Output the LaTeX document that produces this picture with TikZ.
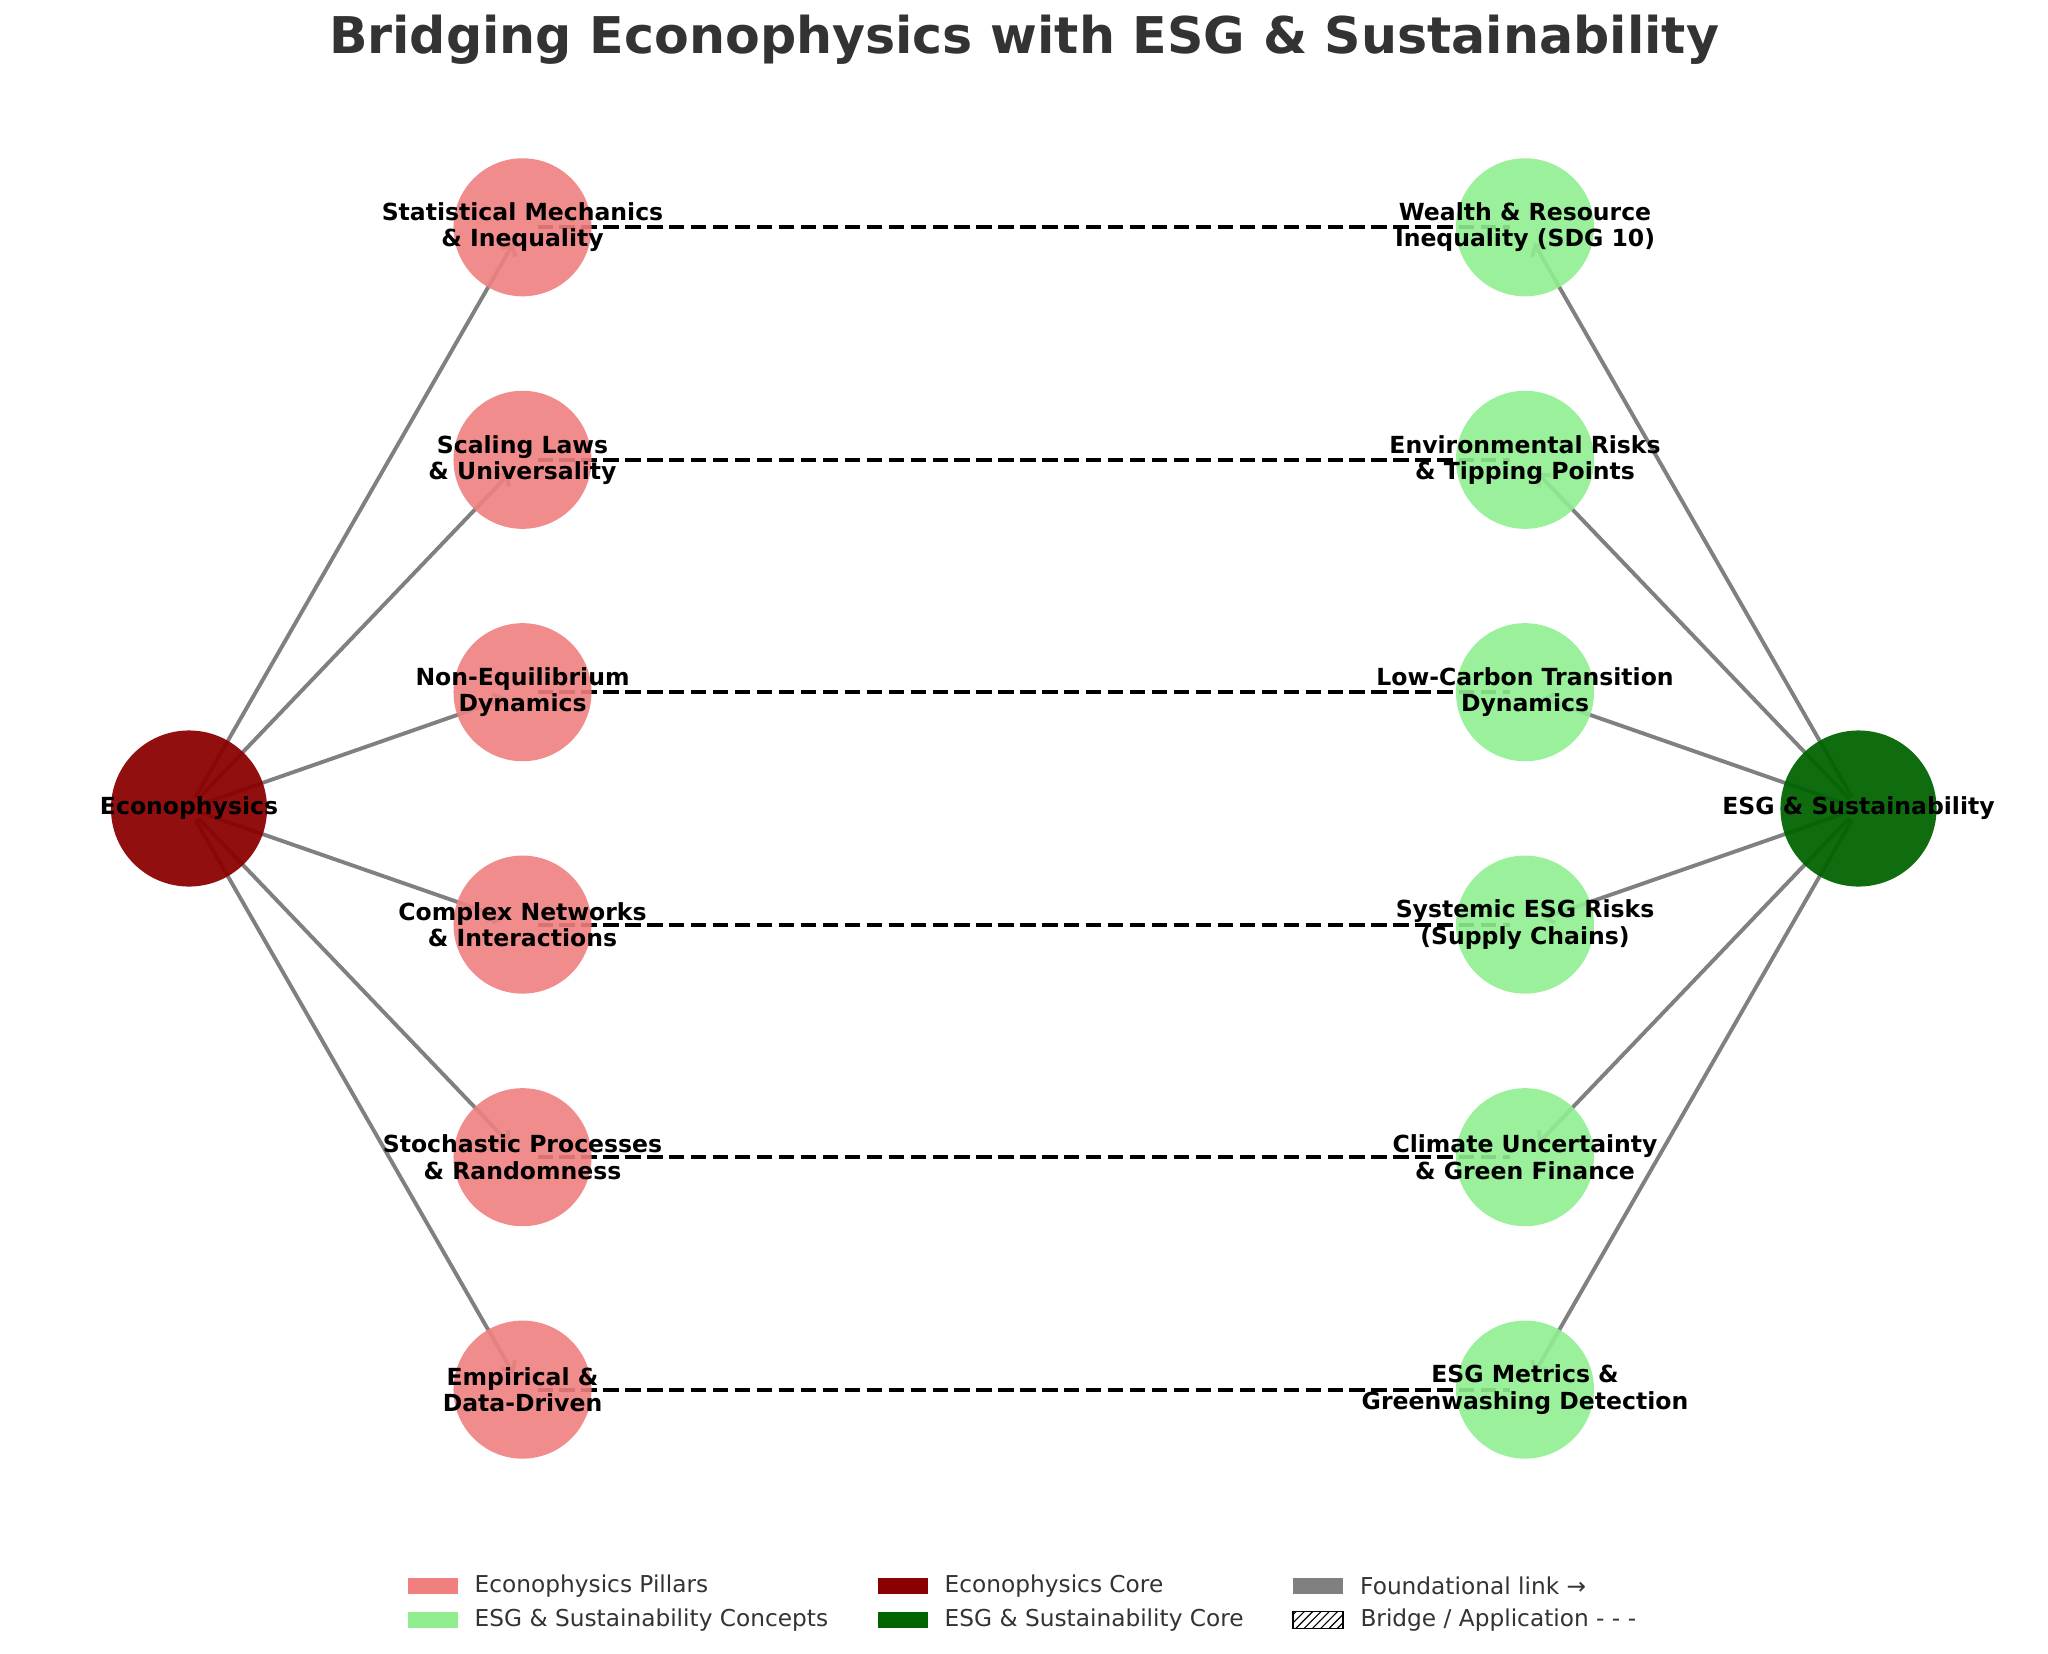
\documentclass[tikz,border=0pt]{standalone}
\usepackage{fontspec}
\setmainfont{DejaVu Sans}
\usetikzlibrary{arrows.meta, backgrounds, patterns, positioning}
\definecolor{pillarred}{HTML}{F08080}
\definecolor{conceptgreen}{HTML}{90EE90}
\definecolor{corered}{HTML}{8B0000}
\definecolor{coregreen}{HTML}{006400}
\definecolor{titlegray}{HTML}{333333}

\begin{document}
\begin{tikzpicture}[x=0.36bp, y=-0.36bp]
			\tikzstyle{pillar}=[
			circle,
			fill=pillarred,
			fill opacity=0.9,
			minimum size=49.7bp,
			inner sep=0pt
			]
			\tikzstyle{concept}=[pillar, fill=conceptgreen]
			\tikzstyle{core}=[pillar, minimum size=56.2bp, fill opacity=0.94]
			\tikzstyle{lbl}=[
			align=center,
			inner sep=0pt,
			font=\bfseries\fontsize{8.5}{9.5}\selectfont
			]
			\tikzstyle{found}=[
			draw=gray,
			line width=1.4bp,
			-{Straight Barb[length=3bp, width=6bp]},
			shorten <=4.7bp,
			shorten >=6.5bp
			]
			\tikzstyle{bridge}=[
			draw=black,
			line width=1.5bp,
			dash pattern=on 5.5bp off 2.4bp,
			shorten <=5.4bp,
			shorten >=5.4bp
			]
			\tikzstyle{legpatch}=[
			rectangle,
			minimum width=18bp,
			minimum height=6.1bp,
			inner sep=0pt
			]
			\tikzstyle{legtext}=[
			inner sep=0pt,
			text=black!80,
			font=\fontsize{8.4}{10}\selectfont
			]
			\useasboundingbox (0,0) rectangle (2048,1654);
			% title
			\node[anchor=base, text=titlegray, font=\bfseries\fontsize{18.3}{22}\selectfont] (title) at (1024,53)
			{Bridging Econophysics with ESG \& Sustainability};
			% cores
			\node[core, fill=corered] (ECON) at (189,808.5) {};
			\node[core, fill=coregreen] (ESG) at (1858.5,808.5) {};
			% econophysics pillars
			\node[pillar] (P1) at (522.5,227.3) {};
			\node[pillar] (P2) at (522.5,459.8) {};
			\node[pillar] (P3) at (522.5,692.2) {};
			\node[pillar] (P4) at (522.5,924.6) {};
			\node[pillar] (P5) at (522.5,1157.2) {};
			\node[pillar] (P6) at (522.5,1389.6) {};
			% esg concepts
			\node[concept] (C1) at (1525,227.3) {};
			\node[concept] (C2) at (1525,459.8) {};
			\node[concept] (C3) at (1525,692.2) {};
			\node[concept] (C4) at (1525,924.6) {};
			\node[concept] (C5) at (1525,1157.2) {};
			\node[concept] (C6) at (1525,1389.6) {};
			\begin{scope}[on background layer]
				\foreach \i in {1,...,6} {
					\path[found] (ECON.center) -- (P\i.center);
					\path[found] (ESG.center) -- (C\i.center);
					\path[bridge] (P\i.center) -- (C\i.center);
				}
			\end{scope}
			% labels
			\node[lbl] (ECON-t) at (ECON) {Econophysics};
			\node[lbl] (ESG-t) at (ESG) {ESG \& Sustainability};
			\node[lbl] (P1-t) at (P1) {Statistical Mechanics\\\& Inequality};
			\node[lbl] (P2-t) at (P2) {Scaling Laws\\\& Universality};
			\node[lbl] (P3-t) at (P3) {Non-Equilibrium\\Dynamics};
			\node[lbl] (P4-t) at (P4) {Complex Networks\\\& Interactions};
			\node[lbl] (P5-t) at (P5) {Stochastic Processes\\\& Randomness};
			\node[lbl] (P6-t) at (P6) {Empirical \&\\Data-Driven};
			\node[lbl] (C1-t) at (C1) {Wealth \& Resource\\Inequality (SDG 10)};
			\node[lbl] (C2-t) at (C2) {Environmental Risks\\\& Tipping Points};
			\node[lbl] (C3-t) at (C3) {Low-Carbon Transition\\Dynamics};
			\node[lbl] (C4-t) at (C4) {Systemic ESG Risks\\(Supply Chains)};
			\node[lbl] (C5-t) at (C5) {Climate Uncertainty\\\& Green Finance};
			\node[lbl] (C6-t) at (C6) {ESG Metrics \&\\Greenwashing Detection};
			% legend
			\node[legpatch, fill=pillarred] (lg1) at (432.5,1586) {};
			\node[legpatch, fill=conceptgreen] (lg2) at (432.5,1620) {};
			\node[legpatch, fill=corered] (lg3) at (902.5,1586) {};
			\node[legpatch, fill=coregreen] (lg4) at (902.5,1620) {};
			\node[legpatch, fill=gray] (lg5) at (1318,1586) {};
			\node[legpatch, draw=black, line width=0.6bp, pattern=north east lines] (lg6) at (1318,1620) {};
			\node[legtext, right=5.8bp of lg1] (lg1-t) {Econophysics Pillars};
			\node[legtext, right=5.8bp of lg2] (lg2-t) {ESG \& Sustainability Concepts};
			\node[legtext, right=5.8bp of lg3] (lg3-t) {Econophysics Core};
			\node[legtext, right=5.8bp of lg4] (lg4-t) {ESG \& Sustainability Core};
			\node[legtext, right=5.8bp of lg5] (lg5-t) {Foundational link →};
			\node[legtext, right=5.8bp of lg6] (lg6-t) {Bridge / Application - - -};
		\end{tikzpicture}
\end{document}
